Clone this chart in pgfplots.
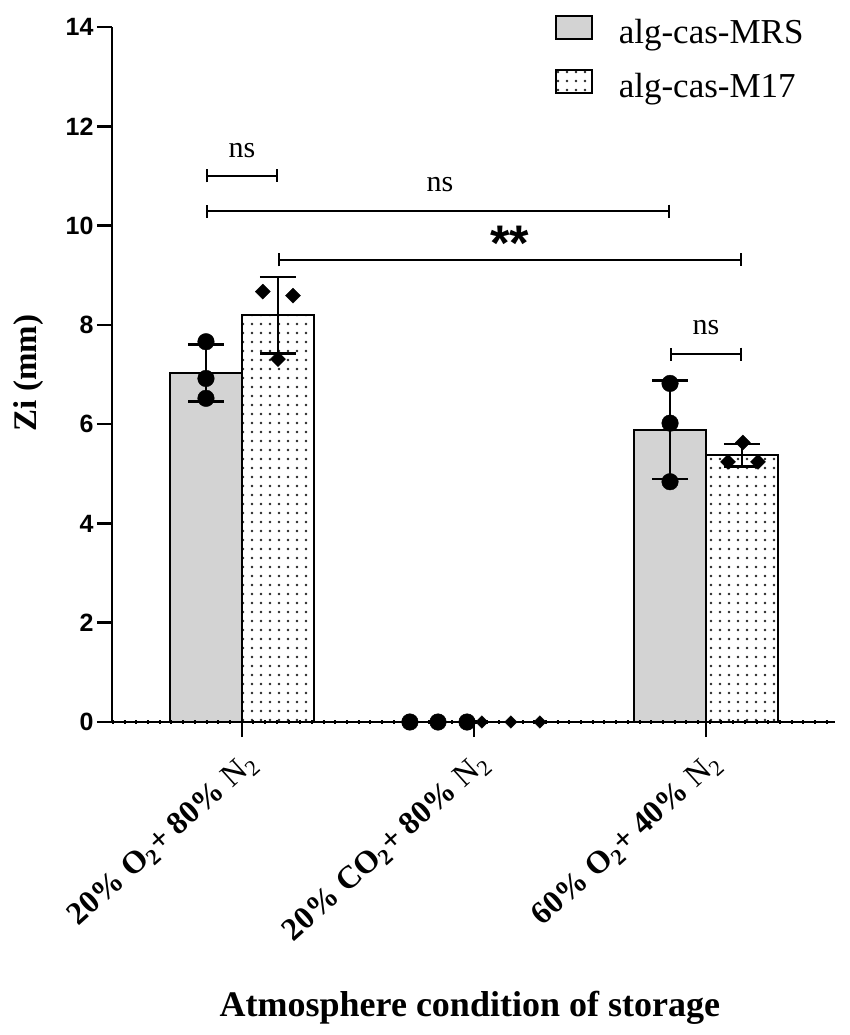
\documentclass[border=0pt]{standalone}
\usepackage{fontspec}
\setmainfont{Liberation Serif}
\setsansfont{Liberation Sans}
\usepackage{pgfplots}
\pgfplotsset{compat=1.18}
\usetikzlibrary{patterns.meta, arrows.meta}
\definecolor{barGray}{RGB}{211,211,211}

\pgfplotstableread{
x y e
-0.155 7.03 0.57
1.845 5.89 0.99
}\errMRS
\pgfplotstableread{
x y e
0.155 8.19 0.77
2.155 5.37 0.225
}\errMSeventeen
\pgfplotstableread{
x y
-0.155 7.66
-0.155 6.92
-0.155 6.52
0.724 0
0.845 0
0.970 0
1.845 6.82
1.845 6.02
1.845 4.84
}\ptsMRS
\pgfplotstableread{
x y
0.090 8.67
0.220 8.59
0.155 7.31
2.159 5.63
2.095 5.24
2.224 5.24
}\ptsMSeventeen
\pgfplotstableread{
x y
1.034 0
1.159 0
1.284 0
}\ptsMSeventeenZero

\newcommand{\Ntwo}{{\mdseries N\textsubscript{2}}}

\begin{document}
\begin{tikzpicture}
\begin{axis}[
  at={(0pt,0pt)}, anchor=south west,
  scale only axis, width=723pt, height=695pt,
  xmin=-0.56, xmax=2.556, ymin=0, ymax=14,
  axis lines*=left,
  axis line style={line width=2.5pt, black},
  ytick={0,2,...,14},
  xtick={0,1,2},
  xticklabels={{20\% O\textsubscript{2}+ 80\% \Ntwo},{20\% CO\textsubscript{2}+ 80\% \Ntwo},{60\% O\textsubscript{2}+ 40\% \Ntwo}},
  tick align=outside,
  major tick length=15pt,
  tick style={line width=2.5pt, black},
  /pgf/number format/assume math mode=true,
  yticklabel style={font=\fontsize{25}{25}\selectfont\sffamily\bfseries},
  xticklabel style={font=\fontsize{32}{32}\selectfont\bfseries, xshift=14pt, yshift=-20pt, rotate=42, anchor=east},
  xlabel={Atmosphere condition of storage},
  xlabel style={at={(axis description cs:0.495,-0.4115)}, anchor=center, font=\fontsize{36}{36}\selectfont\bfseries},
  ylabel={Zi (mm)},
  ylabel style={at={(axis description cs:-0.105,0.502)}, anchor=base, font=\fontsize{33}{33}\selectfont\bfseries},
  clip=false,
  legend style={at={(axis description cs:0.608,1.021)}, anchor=north west, draw=none, fill=none,
    font=\fontsize{35}{35}\selectfont, row sep=16pt,
    nodes={inner sep=0pt, text height=25pt, text depth=9pt},
    /tikz/every odd column/.append style={column sep=26pt}},
  legend cell align=left,
]
\addplot[ybar, bar width=0.31, bar shift=-0.155, fill=barGray, draw=black, line width=2pt,
  legend image code/.code={\draw[black, line width=2pt, fill=barGray] (0pt,-3pt) rectangle (36pt,20pt);}]
  coordinates {(0,7.03) (1,0) (2,5.89)};
\addlegendentry{alg-cas-MRS}
\addplot[ybar, bar width=0.31, bar shift=0.155, draw=black, line width=2pt,
  pattern={Dots[distance=9pt, radius=1.3pt]}, pattern color=black!85,
  legend image code/.code={\draw[black, line width=2pt, pattern={Dots[distance=9pt, radius=1.3pt]}, pattern color=black!85] (0pt,-3pt) rectangle (36pt,20pt);}]
  coordinates {(0,8.19) (1,0) (2,5.37)};
\addlegendentry{alg-cas-M17}
% dotted baseline
\addplot[forget plot, black, line width=4pt, dash pattern=on 2pt off 9.7pt] coordinates {(-0.56,0) (2.556,0)};
% error bars
\addplot[forget plot, draw=none, mark=none, error bars/.cd, y dir=both, y explicit,
  error bar style={draw=black, line width=2.5pt},
  error mark options={draw=black, line width=2.5pt, mark size=18pt, rotate=90}]
  table[x=x, y=y, y error=e] {\errMRS};
\addplot[forget plot, draw=none, mark=none, error bars/.cd, y dir=both, y explicit,
  error bar style={draw=black, line width=2.5pt},
  error mark options={draw=black, line width=2.5pt, mark size=18pt, rotate=90}]
  table[x=x, y=y, y error=e] {\errMSeventeen};
% points
\addplot[forget plot, only marks, mark=*, mark size=8.3pt, black] table[x=x, y=y] {\ptsMRS};
\addplot[forget plot, only marks, mark=diamond*, mark size=7.5pt, mark options={xscale=1.333}, black] table[x=x, y=y] {\ptsMSeventeen};
\addplot[forget plot, only marks, mark=diamond*, mark size=6.3pt, mark options={xscale=1.333}, black] table[x=x, y=y] {\ptsMSeventeenZero};
% significance brackets
\draw[line width=2pt, {Bar[width=13pt]}-{Bar[width=13pt]}] (axis cs:-0.155,11.0) -- (axis cs:0.155,11.0);
\draw[line width=2pt, {Bar[width=13pt]}-{Bar[width=13pt]}] (axis cs:-0.155,10.29) -- (axis cs:1.845,10.29);
\draw[line width=2pt, {Bar[width=13pt]}-{Bar[width=13pt]}] (axis cs:0.155,9.31) -- (axis cs:2.155,9.31);
\draw[line width=2pt, {Bar[width=13pt]}-{Bar[width=13pt]}] (axis cs:1.845,7.41) -- (axis cs:2.155,7.41);
\node[anchor=base, font=\fontsize{30}{30}\selectfont, inner sep=0pt] at (axis cs:0.0,11.38) {ns};
\node[anchor=base, font=\fontsize{30}{30}\selectfont, inner sep=0pt] at (axis cs:0.853,10.68) {ns};
\node[anchor=base, font=\fontsize{50}{50}\selectfont\sffamily\bfseries, inner sep=0pt] at (axis cs:1.155,9.29) {**};
\node[anchor=base, font=\fontsize{30}{30}\selectfont, inner sep=0pt] at (axis cs:2.0,7.80) {ns};
\end{axis}
\pgfresetboundingbox
\path[use as bounding box] (-112pt,-313pt) rectangle (738pt,722pt);
\end{tikzpicture}
\end{document}
